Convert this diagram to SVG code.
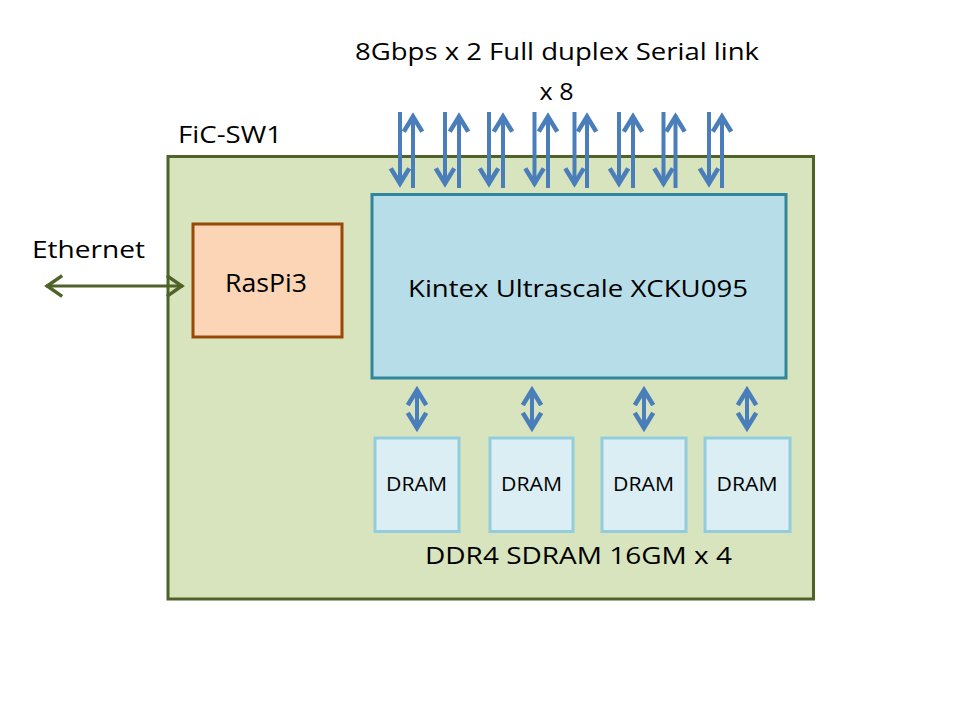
<svg xmlns="http://www.w3.org/2000/svg" width="960" height="720" viewBox="0 0 960 720">
<style>
text{font-family:"Open Sans","Noto Sans","DejaVu Sans",sans-serif;fill:#000}
.board{fill:#d7e4bd;stroke:#4f6228;stroke-width:3}
.fpga{fill:#b7dde8;stroke:#31859c;stroke-width:3}
.rpi{fill:#fbd5b5;stroke:#984807;stroke-width:3}
.dram{fill:#dbeef4;stroke:#93cddd;stroke-width:3}
.blue{stroke:#4a7ebb;stroke-width:4;fill:none}
.green{stroke:#4f6228;stroke-width:3;fill:none}
</style>
<defs>
<marker id="ab" markerUnits="userSpaceOnUse" markerWidth="30" markerHeight="30" viewBox="-20 -12 26 24" refX="0" refY="0" orient="auto-start-reverse" overflow="visible">
<path d="M-14,-8 L-1,0 L-14,8" fill="none" stroke="#4a7ebb" stroke-width="4" stroke-linejoin="miter"/>
</marker>
<marker id="ag" markerUnits="userSpaceOnUse" markerWidth="30" markerHeight="30" viewBox="-20 -12 26 24" refX="0" refY="0" orient="auto-start-reverse" overflow="visible">
<path d="M-14,-9 L-1,0 L-14,9" fill="none" stroke="#4f6228" stroke-width="3" stroke-linejoin="miter"/>
</marker>
</defs>

<g id="title">
<text x="355" y="60" font-size="24" textLength="404" lengthAdjust="spacingAndGlyphs">8Gbps x 2 Full duplex Serial link</text>
<text x="539.5" y="100" font-size="24" textLength="34" lengthAdjust="spacingAndGlyphs">x 8</text>
</g>

<g id="board">
<rect class="board" x="168" y="156.5" width="645.5" height="442.5"/>
<text x="178" y="143" font-size="24" textLength="104" lengthAdjust="spacingAndGlyphs">FiC-SW1</text>
</g>

<g id="ethernet">
<text x="32" y="258" font-size="24" textLength="113" lengthAdjust="spacingAndGlyphs">Ethernet</text>
</g>

<g id="raspi3">
<rect class="rpi" x="193" y="224" width="149" height="113"/>
<text x="225" y="291.5" font-size="25" textLength="82" lengthAdjust="spacingAndGlyphs">RasPi3</text>
</g>

<g id="kintex">
<rect class="fpga" x="372" y="194.5" width="414" height="183.5"/>
<text x="408" y="296.5" font-size="24" textLength="340" lengthAdjust="spacingAndGlyphs">Kintex Ultrascale XCKU095</text>
</g>

<g id="dram1">
<rect class="dram" x="375" y="438" width="84" height="93.5"/>
<text x="386" y="490.5" font-size="20" textLength="61" lengthAdjust="spacingAndGlyphs">DRAM</text>
</g>
<g id="dram2">
<rect class="dram" x="490" y="438" width="83" height="93.5"/>
<text x="501" y="490.5" font-size="20" textLength="61" lengthAdjust="spacingAndGlyphs">DRAM</text>
</g>
<g id="dram3">
<rect class="dram" x="602" y="438" width="84" height="93.5"/>
<text x="613" y="490.5" font-size="20" textLength="61" lengthAdjust="spacingAndGlyphs">DRAM</text>
</g>
<g id="dram4">
<rect class="dram" x="705" y="438" width="85" height="93.5"/>
<text x="716.5" y="490.5" font-size="20" textLength="61" lengthAdjust="spacingAndGlyphs">DRAM</text>
</g>

<g id="dram-label">
<text x="425" y="564" font-size="24" textLength="307" lengthAdjust="spacingAndGlyphs">DDR4 SDRAM 16GM x 4</text>
</g>

<g id="connectors">
<line class="green" x1="46" y1="286" x2="183" y2="286" marker-start="url(#ag)" marker-end="url(#ag)"/>

<line class="blue" x1="400" y1="112" x2="400" y2="184.5" marker-end="url(#ab)"/>
<line class="blue" x1="413" y1="188" x2="413" y2="115.5" marker-end="url(#ab)"/>
<line class="blue" x1="445" y1="112" x2="445" y2="184.5" marker-end="url(#ab)"/>
<line class="blue" x1="459" y1="188" x2="459" y2="115.5" marker-end="url(#ab)"/>
<line class="blue" x1="489" y1="112" x2="489" y2="184.5" marker-end="url(#ab)"/>
<line class="blue" x1="503" y1="188" x2="503" y2="115.5" marker-end="url(#ab)"/>
<line class="blue" x1="534.5" y1="112" x2="534.5" y2="184.5" marker-end="url(#ab)"/>
<line class="blue" x1="548" y1="188" x2="548" y2="115.5" marker-end="url(#ab)"/>
<line class="blue" x1="574.5" y1="112" x2="574.5" y2="184.5" marker-end="url(#ab)"/>
<line class="blue" x1="587" y1="188" x2="587" y2="115.5" marker-end="url(#ab)"/>
<line class="blue" x1="619" y1="112" x2="619" y2="184.5" marker-end="url(#ab)"/>
<line class="blue" x1="633" y1="188" x2="633" y2="115.5" marker-end="url(#ab)"/>
<line class="blue" x1="663.5" y1="112" x2="663.5" y2="184.5" marker-end="url(#ab)"/>
<line class="blue" x1="675.5" y1="188" x2="675.5" y2="115.5" marker-end="url(#ab)"/>
<line class="blue" x1="709" y1="112" x2="709" y2="184.5" marker-end="url(#ab)"/>
<line class="blue" x1="722" y1="188" x2="722" y2="115.5" marker-end="url(#ab)"/>

<line class="blue" x1="417" y1="389" x2="417" y2="429" marker-start="url(#ab)" marker-end="url(#ab)"/>
<line class="blue" x1="532" y1="389" x2="532" y2="429" marker-start="url(#ab)" marker-end="url(#ab)"/>
<line class="blue" x1="644" y1="389" x2="644" y2="429" marker-start="url(#ab)" marker-end="url(#ab)"/>
<line class="blue" x1="747" y1="389" x2="747" y2="429" marker-start="url(#ab)" marker-end="url(#ab)"/>
</g>
</svg>
